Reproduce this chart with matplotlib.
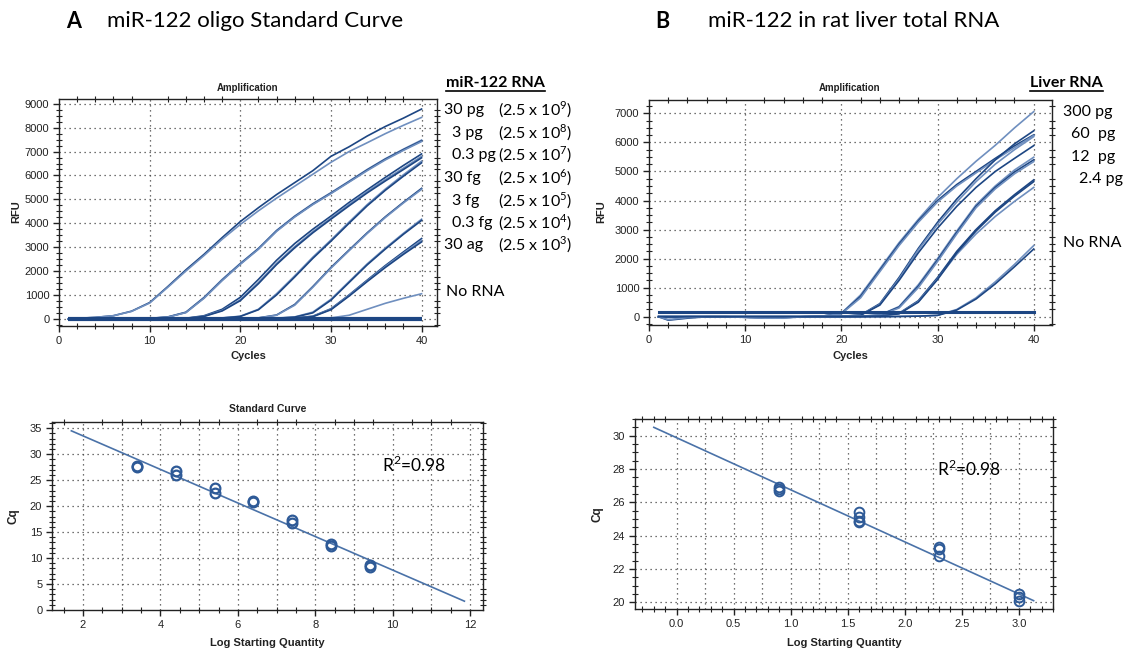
import matplotlib
matplotlib.use("Agg")
import matplotlib.pyplot as plt
from matplotlib.ticker import MultipleLocator
from matplotlib.lines import Line2D

# ---- data ------------------------------------------------------------------
CYCLES = [1, 2, 4, 6, 8, 10, 12, 14, 16, 18, 20, 22, 24, 26, 28, 30, 32, 34, 36, 38, 40]

# panel A amplification (RFU at CYCLES), one list per replicate
A_30PG = [
    [0, 20, 60, 130, 320, 680, 1350, 2050, 2700, 3400, 4070, 4650, 5200, 5700, 6200, 6800, 7200, 7650, 8050, 8400, 8780],
    [0, 20, 60, 130, 310, 660, 1320, 2000, 2650, 3330, 3950, 4520, 5050, 5550, 6050, 6550, 7000, 7370, 7750, 8100, 8430],
]
A_3PG = [
    [0, 0, 0, 0, 5, 20, 80, 280, 900, 1650, 2320, 2950, 3700, 4300, 4820, 5280, 5760, 6250, 6700, 7100, 7480],
    [0, 0, 0, 0, 5, 20, 75, 270, 880, 1620, 2300, 2930, 3680, 4280, 4800, 5260, 5740, 6230, 6680, 7080, 7450],
    [0, 0, 0, 0, 5, 15, 70, 260, 860, 1600, 2280, 2910, 3660, 4260, 4780, 5240, 5720, 6200, 6650, 7050, 7420],
]
A_03PG = [
    [0, 0, 0, 0, 0, 0, 5, 25, 130, 400, 900, 1650, 2450, 3150, 3750, 4300, 4870, 5400, 5920, 6420, 6900],
    [0, 0, 0, 0, 0, 0, 5, 20, 110, 350, 800, 1520, 2320, 3020, 3650, 4220, 4790, 5330, 5830, 6310, 6800],
    [0, 0, 0, 0, 0, 0, 5, 20, 100, 330, 760, 1470, 2270, 2970, 3600, 4170, 4730, 5270, 5770, 6250, 6740],
]
A_30FG = [
    [0, 0, 0, 0, 0, 0, 0, 5, 15, 40, 110, 400, 1050, 1800, 2580, 3300, 4050, 4780, 5430, 6030, 6600],
    [0, 0, 0, 0, 0, 0, 0, 5, 15, 35, 100, 380, 1000, 1750, 2530, 3250, 4000, 4730, 5380, 5970, 6530],
]
A_3FG = [
    [0, 0, 0, 0, 0, 0, 0, 0, 5, 5, 10, 40, 160, 600, 1350, 2150, 2880, 3600, 4270, 4880, 5460],
    [0, 0, 0, 0, 0, 0, 0, 0, 5, 5, 10, 35, 150, 570, 1320, 2120, 2850, 3570, 4240, 4850, 5420],
]
A_03FG = [
    [0, 0, 0, 0, 0, 0, 0, 0, 0, 5, 5, 10, 30, 80, 280, 820, 1560, 2300, 2960, 3580, 4170],
    [0, 0, 0, 0, 0, 0, 0, 0, 0, 5, 5, 10, 25, 70, 250, 780, 1520, 2260, 2920, 3540, 4120],
]
A_30AG = [
    [0, 0, 0, 0, 0, 0, 0, 0, 0, 0, 5, 10, 20, 40, 110, 420, 1000, 1620, 2230, 2800, 3360],
    [0, 0, 0, 0, 0, 0, 0, 0, 0, 0, 5, 10, 20, 35, 100, 400, 980, 1590, 2190, 2750, 3290],
    [0, 0, 0, 0, 0, 0, 0, 0, 0, 0, 5, 10, 15, 30, 90, 380, 950, 1560, 2150, 2700, 3220],
]
A_NORNA = [
    [0, 0, 0, 0, 0, 0, 0, 0, 0, 0, 0, 0, 0, 5, 15, 40, 150, 400, 650, 860, 1050],
]
A_FLAT = [
    [0, 0, 0, 0, 0, 0, 0, 0, 0, 0, 0, 0, 0, 0, 0, 0, 0, 0, 0, 0, 0],
]

# panel B amplification
B_300PG = [
    [0, -30, 0, 0, 0, -20, -40, -30, 0, 20, 120, 750, 1650, 2550, 3350, 4100, 4750, 5350, 5900, 6500, 7060],
    [0, -120, -50, 0, 0, -20, -40, -30, 0, 20, 110, 700, 1600, 2500, 3300, 4000, 4550, 5000, 5450, 5880, 6260],
    [0, 0, 0, 0, 0, 0, 0, 0, 0, 20, 100, 650, 1550, 2450, 3250, 3950, 4500, 4950, 5400, 5820, 6240],
]
B_60PG = [
    [0, 0, 0, 0, 0, 0, 0, 0, 0, 5, 15, 60, 450, 1350, 2350, 3250, 4050, 4750, 5400, 5950, 6400],
    [0, 0, 0, 0, 0, 0, 0, 0, 0, 5, 15, 55, 420, 1300, 2300, 3180, 3950, 4650, 5250, 5750, 6200],
    [0, 0, 0, 0, 0, 0, 0, 0, 0, 5, 10, 50, 400, 1250, 2200, 3050, 3800, 4450, 5000, 5450, 5890],
]
B_12PG = [
    [0, 0, 0, 0, 0, 0, 0, 0, 0, 0, 5, 20, 60, 350, 1100, 2000, 2950, 3850, 4500, 5050, 5490],
    [0, 0, 0, 0, 0, 0, 0, 0, 0, 0, 5, 15, 55, 330, 1050, 1950, 2900, 3800, 4450, 4980, 5400],
    [0, 0, 0, 0, 0, 0, 0, 0, 0, 0, 5, 15, 50, 300, 1000, 1900, 2850, 3750, 4400, 4920, 5340],
]
B_24PG = [
    [0, 0, 0, 0, 0, 0, 0, 0, 0, 0, 5, 10, 30, 120, 550, 1350, 2250, 3000, 3650, 4200, 4710],
    [0, 0, 0, 0, 0, 0, 0, 0, 0, 0, 5, 10, 25, 110, 520, 1300, 2150, 2850, 3450, 3970, 4450],
    [0, 0, 0, 0, 0, 0, 0, 0, 0, 0, 5, 10, 25, 100, 500, 1280, 2200, 2950, 3600, 4150, 4650],
]
B_NORNA = [
    [0, -100, -30, 0, 0, -20, -50, -50, 0, 0, 0, 0, 0, 10, 20, 50, 250, 650, 1200, 1800, 2450],
    [0, 0, 0, 0, 0, 0, 0, 0, 0, 0, 0, 0, 0, 10, 20, 45, 230, 610, 1130, 1720, 2330],
]
B_THRESHOLD = 160

# standard curves (log starting quantity, Cq)
A_LOGQ = [3.4, 3.4, 4.4, 4.4, 5.4, 5.4, 6.4, 6.4, 7.4, 7.4, 8.4, 8.4, 9.4, 9.4]
A_CQ = [27.6, 27.8, 26.8, 26.0, 23.4, 22.6, 21.0, 20.7, 17.3, 16.7, 12.8, 12.4, 8.7, 8.2]
A_FIT_X = [1.7, 11.85]
A_FIT_Y = [34.5, 1.7]

B_LOGQ = [0.9, 0.9, 0.9, 1.6, 1.6, 1.6, 1.6, 2.3, 2.3, 2.3, 3.0, 3.0, 3.0]
B_CQ = [26.9, 26.8, 26.7, 25.4, 25.1, 24.9, 24.8, 23.3, 23.2, 22.8, 20.5, 20.3, 20.1]
B_FIT_X = [-0.2, 3.13]
B_FIT_Y = [30.5, 20.1]

A_LABELS = ["30 pg", "3 pg", "0.3 pg", "30 fg", "3 fg", "0.3 fg", "30 ag"]
A_COPIES = ["9", "8", "7", "6", "5", "4", "3"]
B_LABELS = ["300 pg", "60  pg", "12  pg", "2.4 pg"]

# ---- layout ------------------------------------------------------------------
W, H = 1128, 651
DARK = "#1d4683"
LIGHT = "#6f8fbf"
AX_FONT = "Liberation Sans"
TXT_FONT = "Lato"

plt.rcParams["mathtext.fontset"] = "custom"
plt.rcParams["mathtext.rm"] = TXT_FONT

fig = plt.figure(figsize=(W / 100, H / 100), dpi=100)


def box(l, t, r, b):
    return [l / W, 1 - b / H, (r - l) / W, (b - t) / H]


def ftext(x, y, s, **kw):
    return fig.text(x / W, 1 - y / H, s, **kw)


def style(ax, xmaj, xmin, ymaj, ymin):
    ax.xaxis.set_major_locator(MultipleLocator(xmaj))
    ax.xaxis.set_minor_locator(MultipleLocator(xmin))
    ax.yaxis.set_major_locator(MultipleLocator(ymaj))
    ax.yaxis.set_minor_locator(MultipleLocator(ymin))
    ax.tick_params(which="major", direction="out", length=4, width=1, labelsize=8,
                   colors="#222", pad=3)
    ax.tick_params(which="minor", direction="inout", length=4, width=0.8,
                   top=True, right=True, colors="#222")
    for lab in ax.get_xticklabels() + ax.get_yticklabels():
        lab.set_fontfamily(AX_FONT)
    for s in ax.spines.values():
        s.set_linewidth(1.0)
        s.set_color("#222")


def vgrid(ax, vals):
    for v in vals:
        ax.axvline(v, color="#444", lw=0.9, ls=(0, (1, 3)), zorder=0)


def hgrid(ax, vals):
    for v in vals:
        ax.axhline(v, color="#444", lw=0.9, ls=(0, (1, 3)), zorder=0)


# ---- A: amplification ----------------------------------------------------------
ax1 = fig.add_axes(box(59, 99, 437, 326))
groups_a = [A_30PG, A_3PG, A_03PG, A_30FG, A_3FG, A_03FG, A_30AG, A_NORNA]
for gi, grp in enumerate(groups_a):
    for ri, vals in enumerate(grp):
        col = LIGHT if (gi + ri) % 2 else DARK
        ax1.plot(CYCLES, vals, color=col, lw=1.2, zorder=3)
for vals in A_FLAT:
    ax1.plot(CYCLES, vals, color=DARK, lw=3, zorder=3, solid_capstyle="butt")
ax1.set_xlim(0, 41.7)
ax1.set_ylim(-300, 9200)
style(ax1, 10, 2, 1000, 250)
vgrid(ax1, [10, 20, 30, 40])
hgrid(ax1, range(0, 9001, 1000))

# ---- B: amplification ----------------------------------------------------------
ax2 = fig.add_axes(box(649, 100, 1052, 325))
groups_b = [B_300PG, B_60PG, B_12PG, B_24PG, B_NORNA]
for gi, grp in enumerate(groups_b):
    for ri, vals in enumerate(grp):
        col = LIGHT if (gi + ri) % 2 == 0 else DARK
        ax2.plot(CYCLES, vals, color=col, lw=1.2, zorder=3)
ax2.plot([CYCLES[0], CYCLES[-1]], [B_THRESHOLD, B_THRESHOLD], color=DARK, lw=2.2, zorder=4)
ax2.set_xlim(0, 41.9)
ax2.set_ylim(-285, 7460)
style(ax2, 10, 2, 1000, 250)
vgrid(ax2, [10, 20, 30, 40])
hgrid(ax2, range(0, 7001, 1000))

# ---- A: standard curve -----------------------------------------------------------
ax3 = fig.add_axes(box(52, 422, 483, 610))
ax3.plot(A_FIT_X, A_FIT_Y, color="#4a72a8", lw=1.2, zorder=3)
ax3.plot(A_LOGQ, A_CQ, ls="none", marker="o", ms=7, mfc="none", mec="#2e5a97",
         mew=1.6, zorder=4)
ax3.set_xlim(1.2, 12.33)
ax3.set_ylim(0, 36.2)
style(ax3, 2, 0.5, 5, 1)
vgrid(ax3, range(2, 13))
hgrid(ax3, range(5, 36, 5))

# ---- B: standard curve -----------------------------------------------------------
ax4 = fig.add_axes(box(635, 419, 1053, 609))
ax4.plot(B_FIT_X, B_FIT_Y, color="#4a72a8", lw=1.2, zorder=3)
ax4.plot(B_LOGQ, B_CQ, ls="none", marker="o", ms=7, mfc="none", mec="#2e5a97",
         mew=1.4, zorder=4)
ax4.set_xlim(-0.365, 3.30)
ax4.set_ylim(19.6, 31.0)
ax4.xaxis.set_major_formatter(lambda v, p: f"{v:.1f}")
style(ax4, 0.5, 0.1, 2, 0.5)
vgrid(ax4, [i * 0.25 for i in range(13)])
hgrid(ax4, range(20, 31, 2))

# ---- axis titles ---------------------------------------------------------------
lab = dict(family=AX_FONT, fontweight="bold", color="#222", ha="center", va="center")
ftext(248, 88, "Amplification", fontsize=7, **lab)
ftext(850, 88, "Amplification", fontsize=7, **lab)
ftext(268, 409, "Standard Curve", fontsize=7.5, **lab)
ftext(248, 356, "Cycles", fontsize=8, **lab)
ftext(850, 356, "Cycles", fontsize=8, **lab)
ftext(267, 643, "Log Starting Quantity", fontsize=8, **lab)
ftext(844, 643, "Log Starting Quantity", fontsize=8, **lab)
ftext(16, 212, "RFU", fontsize=8, rotation=90, **lab)
ftext(601, 212, "RFU", fontsize=8, rotation=90, **lab)
ftext(14, 516, "Cq", fontsize=8.5, rotation=90, **lab)
ftext(598, 514, "Cq", fontsize=8.5, rotation=90, **lab)

# ---- panel titles ----------------------------------------------------------------
tt = dict(family=TXT_FONT, color="black", va="center")
ftext(66, 21, "A", fontsize=15.5, fontweight="bold", **tt)
ftext(107, 21, "miR-122 oligo Standard Curve", fontsize=16, **tt)
ftext(655, 21, "B", fontsize=15.5, fontweight="bold", **tt)
ftext(708, 21, "miR-122 in rat liver total RNA", fontsize=16, **tt)

# ---- side labels -------------------------------------------------------------------
ann = dict(family=TXT_FONT, fontsize=11.5, color="black", va="center")
hA = ftext(446, 83, "miR-122 RNA", fontweight="bold", **ann)
ys = [110, 133, 155, 178, 201, 223, 245]
for lbl, ex, y in zip(A_LABELS, A_COPIES, ys):
    x0 = 444 if lbl.startswith("30") else 452
    ftext(x0, y, lbl, **ann)
    ftext(572, y, "(2.5 x 10$^{" + ex + "}$)", ha="right", **ann)
ftext(446, 292, "No RNA", **ann)

hB = ftext(1030, 83, "Liver RNA", fontweight="bold", **ann)
for lbl, x0, y in zip(B_LABELS, [1063, 1071, 1071, 1079], [112, 134, 157, 179]):
    ftext(x0, y, lbl, **ann)
ftext(1063, 243, "No RNA", **ann)

ftext(382, 465, "R$^{2}$=0.98", fontsize=12.5, family=TXT_FONT, va="center")
ftext(937, 469, "R$^{2}$=0.98", fontsize=12.5, family=TXT_FONT, va="center")

# underline the two bold headers
fig.canvas.draw()
r = fig.canvas.get_renderer()
for t in (hA, hB):
    bb = t.get_window_extent(r)
    yl = bb.y0 - 1
    fig.add_artist(Line2D([bb.x0 / W, bb.x1 / W], [yl / H, yl / H],
                          transform=fig.transFigure, color="black", lw=1.2))

fig.savefig("out.png", dpi=100)
